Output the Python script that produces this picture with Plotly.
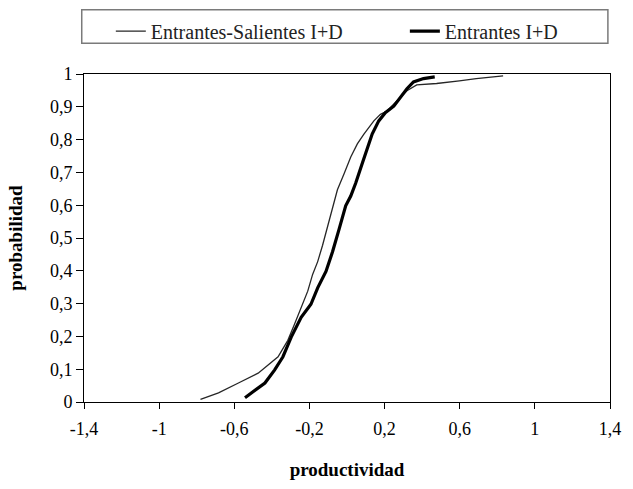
import plotly.graph_objects as go

# Empirical cumulative distributions of productivity
es_x = [-0.780, -0.684, -0.578, -0.473, -0.367, -0.315, -0.279, -0.246, -0.209, -0.183,
        -0.156, -0.130, -0.103, -0.077, -0.051, -0.015, 0.020, 0.055, 0.090, 0.143,
        0.178, 0.213, 0.249, 0.283, 0.319, 0.371, 0.477, 0.598, 0.688, 0.831]
es_y = [0.008, 0.028, 0.058, 0.088, 0.138, 0.188, 0.238, 0.288, 0.338, 0.389,
        0.428, 0.478, 0.538, 0.598, 0.647, 0.697, 0.747, 0.787, 0.817, 0.857,
        0.877, 0.887, 0.907, 0.927, 0.949, 0.967, 0.971, 0.979, 0.986, 0.994]

en_x = [-0.543, -0.437, -0.385, -0.341, -0.297, -0.244, -0.192, -0.156, -0.112, -0.077,
        -0.042, -0.007, 0.020, 0.046, 0.081, 0.099, 0.134, 0.169, 0.204, 0.249,
        0.282, 0.319, 0.354, 0.407, 0.467]
en_y = [0.013, 0.058, 0.098, 0.138, 0.198, 0.258, 0.298, 0.348, 0.398, 0.458,
        0.527, 0.598, 0.628, 0.667, 0.727, 0.757, 0.817, 0.857, 0.882, 0.902,
        0.928, 0.955, 0.976, 0.986, 0.991]

series_names = ["Entrantes-Salientes I+D", "Entrantes I+D"]

x_ticks = [-1.4, -1.0, -0.6, -0.2, 0.2, 0.6, 1.0, 1.4]
x_tick_labels = ["-1,4", "-1", "-0,6", "-0,2", "0,2", "0,6", "1", "1,4"]
y_ticks = [0, 0.1, 0.2, 0.3, 0.4, 0.5, 0.6, 0.7, 0.8, 0.9, 1.0]
y_tick_labels = ["0", "0,1", "0,2", "0,3", "0,4", "0,5", "0,6", "0,7", "0,8", "0,9", "1"]

FONT = "Times New Roman"

fig = go.Figure()
fig.add_trace(go.Scatter(x=es_x, y=es_y, mode="lines", name=series_names[0],
                         line=dict(color="#262626", width=1.3), legend="legend"))
fig.add_trace(go.Scatter(x=en_x, y=en_y, mode="lines", name=series_names[1],
                         line=dict(color="#000000", width=3.2), legend="legend2"))

legend_style = dict(y=1.19, xanchor="left", yanchor="top",
                    bgcolor="rgba(0,0,0,0)", borderwidth=0,
                    font=dict(family=FONT, size=20, color="#222"))

fig.update_layout(
    width=633, height=489,
    margin=dict(l=84, r=18, t=68, b=86),
    paper_bgcolor="white", plot_bgcolor="white",
    font=dict(family=FONT, size=18, color="black"),
    showlegend=True,
    legend=dict(x=0.051, **legend_style),
    legend2=dict(x=0.610, **legend_style),
    shapes=[dict(type="rect", xref="paper", yref="paper",
                 x0=-0.0043, x1=0.996, y0=1.094, y1=1.196,
                 line=dict(color="#7a7a7a", width=1.5), fillcolor="rgba(0,0,0,0)")],
)

fig.update_xaxes(range=[-1.4, 1.4], tickvals=x_ticks, ticktext=x_tick_labels,
                 showgrid=False, zeroline=False, showline=True, linecolor="black",
                 linewidth=1, mirror=True, ticks="outside", ticklen=6, tickcolor="black",
                 ticklabelstandoff=4,
                 tickfont=dict(family=FONT, size=18),
                 title=dict(text="<b>productividad</b>", standoff=25,
                            font=dict(family=FONT, size=19)))
fig.update_yaxes(range=[0, 1], tickvals=y_ticks, ticktext=y_tick_labels,
                 showgrid=False, zeroline=False, showline=True, linecolor="black",
                 linewidth=1, mirror=True, ticks="outside", ticklen=7, tickcolor="black",
                 tickfont=dict(family=FONT, size=18),
                 title=dict(text="<b>probabilidad</b>", standoff=22,
                            font=dict(family=FONT, size=19)))

fig.write_html("out.html")
